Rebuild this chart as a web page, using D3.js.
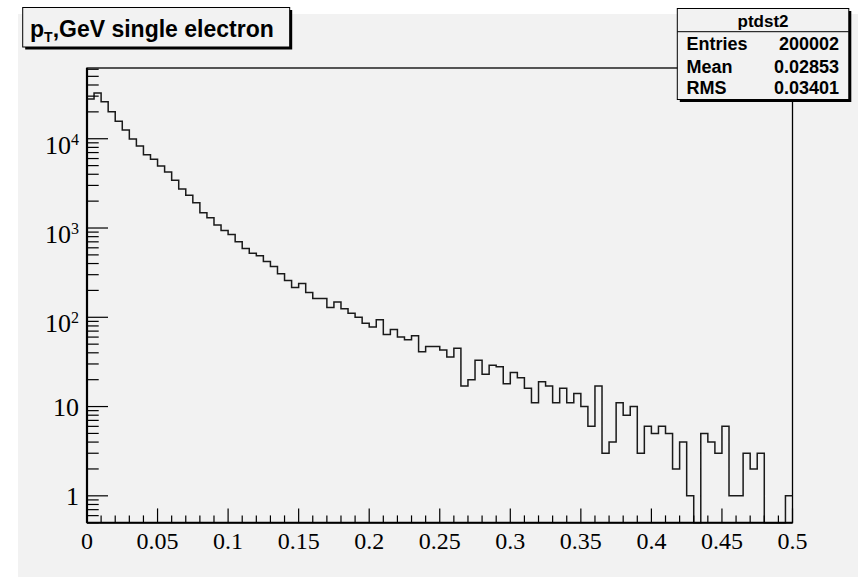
<!DOCTYPE html>
<html>
<head>
<meta charset="utf-8">
<script src="https://cdn.jsdelivr.net/npm/d3@7/dist/d3.min.js"></script>
<style>
  html, body { margin: 0; padding: 0; background: #ffffff; }
  svg { display: block; }
</style>
</head>
<body>
<svg id="chart" width="864" height="577"></svg>
<script>
// ---- data ----
const histName = "ptdst2";
const binLow = 0.0, binHigh = 0.5, nBins = 100;
const counts = [
  27800, 32450, 25940, 20060, 15660, 12500, 9925, 8285, 6626, 5888,
  4955, 4245, 3427, 2737, 2328, 1923, 1487, 1307, 1084, 935,
  844, 700, 589, 523, 488, 421, 370, 307, 258, 215,
  239, 189, 162, 162, 129, 148, 125, 111, 100, 86,
  78, 94, 64, 73, 60, 56, 62, 41, 47, 47,
  43, 36, 45, 17, 20, 33, 23, 29, 28, 18,
  24, 21, 16, 11, 19, 17, 11, 16, 11, 14,
  10, 6, 17, 3, 4, 11, 8, 10, 3, 6,
  5, 6, 5, 2, 4, 1, 0, 5, 4, 3,
  6, 1, 1, 3, 2, 3, 0, 0, 0, 1
];
const xTickValues = [0, 0.05, 0.1, 0.15, 0.2, 0.25, 0.3, 0.35, 0.4, 0.45, 0.5];
const xTickLabels = ["0", "0.05", "0.1", "0.15", "0.2", "0.25", "0.3", "0.35", "0.4", "0.45", "0.5"];
const yTickValues = [1, 10, 100, 1000, 10000];
const yTickBase = ["1", "10", "10", "10", "10"];
const yTickExp = ["", "", "2", "3", "4"];
const statLabels = ["Entries", "Mean", "RMS"];
const statValues = ["200002", "0.02853", "0.03401"];
const titleMain = "p";
const titleSub = "T";
const titleRest = ",GeV single electron";
const yDomain = [0.5, 62000];

// ---- layout ----
const svg = d3.select("#chart");
const fL = 87, fR = 792.5, fT = 68, fB = 522.7;
const padGray = "#f2f2f2";

svg.append("rect").attr("x", 18).attr("y", 14).attr("width", 840).attr("height", 563).attr("fill", padGray);

const x = d3.scaleLinear().domain([binLow, binHigh]).range([fL, fR]);
const y = d3.scaleLog().domain(yDomain).range([fB, fT]).clamp(true);
const binW = (binHigh - binLow) / nBins;

// frame
svg.append("rect").attr("x", fL).attr("y", fT).attr("width", fR - fL).attr("height", fB - fT)
  .attr("fill", padGray).attr("stroke", "#000").attr("stroke-width", 1.3);

// histogram path
const pts = [];
counts.forEach((c, i) => {
  const v = c > 0 ? c : yDomain[0];
  const yy = y(v);
  pts.push([x(binLow + i * binW), yy]);
  pts.push([x(binLow + (i + 1) * binW), yy]);
});
svg.append("path").attr("d", d3.line()(pts)).attr("fill", "none").attr("stroke", "#1a1a1a").attr("stroke-width", 1.5);

// x axis ticks
const g = svg.append("g");
const minorX = d3.range(0, 51).map(i => i * 0.01);
minorX.forEach((v, i) => {
  const major = i % 5 === 0;
  g.append("line").attr("x1", x(v)).attr("x2", x(v)).attr("y1", fB).attr("y2", fB - (major ? 14.3 : 7.3))
    .attr("stroke", "#000").attr("stroke-width", 1.2);
});
xTickValues.forEach((v, i) => {
  g.append("text").attr("x", x(v)).attr("y", 548.5).attr("text-anchor", "middle")
    .attr("font-family", "'Liberation Serif', 'Times New Roman', serif").attr("font-size", 24).attr("fill", "#000")
    .text(xTickLabels[i]);
});

// y axis ticks
for (let k = -1; k <= 4; k++) {
  for (let m = 1; m <= 9; m++) {
    const v = m * Math.pow(10, k);
    if (v < yDomain[0] || v > yDomain[1]) continue;
    const major = m === 1;
    g.append("line").attr("x1", fL).attr("x2", fL + (major ? 21 : 11.7)).attr("y1", y(v)).attr("y2", y(v))
      .attr("stroke", "#000").attr("stroke-width", 1.2);
  }
}
yTickValues.forEach((v, i) => {
  const hasExp = yTickExp[i] !== "";
  const t = g.append("text").attr("x", 79).attr("y", y(v) + (hasExp ? 15 : 9.5)).attr("text-anchor", "end")
    .attr("font-family", "'Liberation Serif', 'Times New Roman', serif").attr("font-size", 26).attr("fill", "#000");
  t.append("tspan").text(yTickBase[i]);
  if (hasExp) t.append("tspan").attr("dy", -9).attr("font-size", 16).text(yTickExp[i]);
});

// axis lines (thicker)
svg.append("line").attr("x1", fL).attr("x2", fL).attr("y1", fT).attr("y2", fB).attr("stroke", "#000").attr("stroke-width", 2.2);
svg.append("line").attr("x1", fL).attr("x2", fR).attr("y1", fB).attr("y2", fB).attr("stroke", "#000").attr("stroke-width", 2);

// title box
function boxWithShadow(x0, y0, w, h) {
  svg.append("rect").attr("x", x0 + 2.5).attr("y", y0 + 2.5).attr("width", w).attr("height", h).attr("fill", "#000");
  svg.append("rect").attr("x", x0).attr("y", y0).attr("width", w).attr("height", h)
    .attr("fill", padGray).attr("stroke", "#000").attr("stroke-width", 1);
}
boxWithShadow(22.7, 7.5, 267, 39.5);
const tt = svg.append("text").attr("x", 30).attr("y", 36.5)
  .attr("font-family", "'Liberation Sans', Arial, sans-serif").attr("font-weight", "bold").attr("font-size", 23).attr("fill", "#000");
tt.append("tspan").text(titleMain);
tt.append("tspan").attr("dy", 5).attr("font-size", 14).text(titleSub);
tt.append("tspan").attr("dy", -5).text(titleRest);

// stats box
boxWithShadow(677.3, 8.5, 171.5, 91);
svg.append("line").attr("x1", 677.3).attr("x2", 848.8).attr("y1", 31.7).attr("y2", 31.7).attr("stroke", "#000").attr("stroke-width", 1);
svg.append("text").attr("x", 763).attr("y", 26.5).attr("text-anchor", "middle")
  .attr("font-family", "'Liberation Sans', Arial, sans-serif").attr("font-weight", "bold").attr("font-size", 17).attr("fill", "#000")
  .text(histName);
const statBase = [50, 72.8, 94.2];
statLabels.forEach((lab, i) => {
  svg.append("text").attr("x", 686.5).attr("y", statBase[i])
    .attr("font-family", "'Liberation Sans', Arial, sans-serif").attr("font-weight", "bold").attr("font-size", 18).attr("fill", "#000")
    .text(lab);
  svg.append("text").attr("x", 839).attr("y", statBase[i]).attr("text-anchor", "end")
    .attr("font-family", "'Liberation Sans', Arial, sans-serif").attr("font-weight", "bold").attr("font-size", 18).attr("fill", "#000")
    .text(statValues[i]);
});
</script>
</body>
</html>
